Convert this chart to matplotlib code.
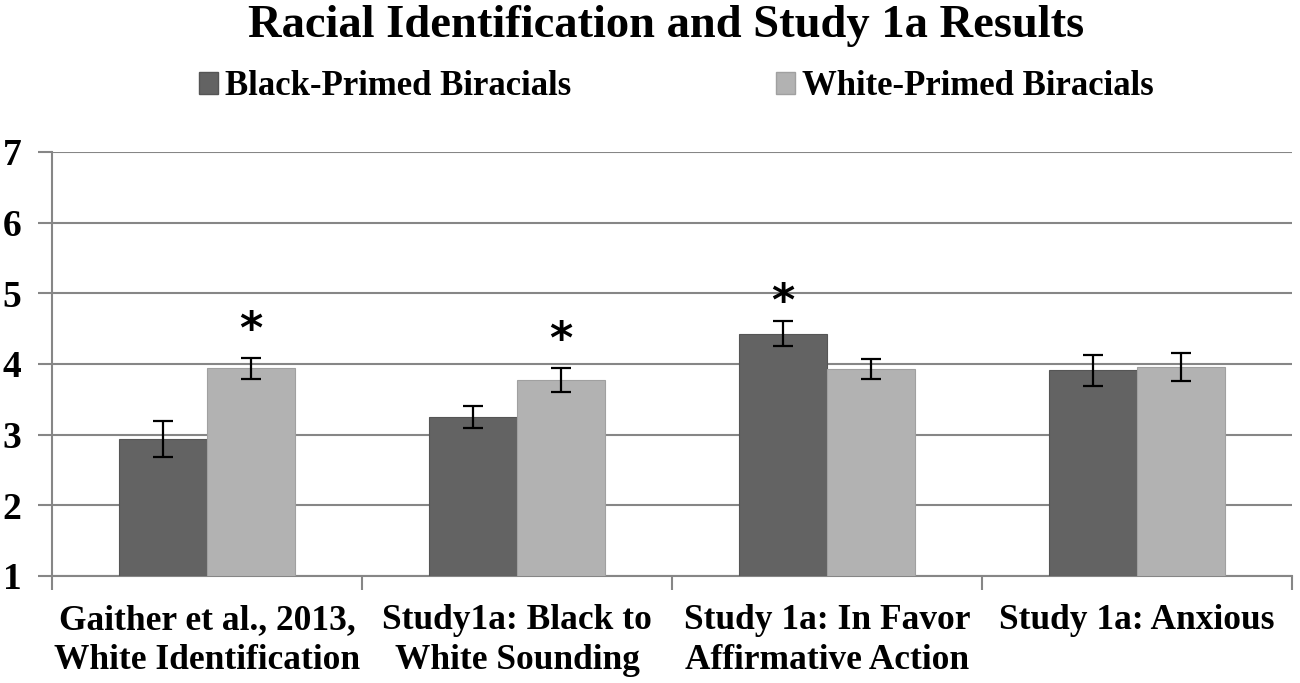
import matplotlib
matplotlib.use("Agg")
import matplotlib.pyplot as plt
import numpy as np
from matplotlib.patches import Patch

categories = ["Gaither et al., 2013,\nWhite Identification",
              "Study1a: Black to\nWhite Sounding",
              "Study 1a: In Favor\nAffirmative Action",
              "Study 1a: Anxious"]
series_names = ["Black-Primed Biracials", "White-Primed Biracials"]
black_primed = [2.94, 3.25, 4.43, 3.91]
white_primed = [3.94, 3.77, 3.93, 3.96]
black_err = [0.26, 0.16, 0.18, 0.22]
white_err = [0.15, 0.17, 0.14, 0.20]
# significance markers: (category index, series index, y position)
stars = [(0, 1, 4.48), (1, 1, 4.33), (2, 0, 4.87)]
yticks = [1, 2, 3, 4, 5, 6, 7]

plt.rcParams['font.family'] = ['Liberation Serif', 'DejaVu Serif']
plt.rcParams['font.weight'] = 'bold'

fig = plt.figure(figsize=(13, 6.83), dpi=100)
ax = fig.add_axes([0.04, 0.1567, 0.9538, 0.6208])

dark = '#636363'
light = '#b2b2b2'
grid_c = '#868686'
x = np.arange(len(categories))
w = 0.284

ax.bar(x - w/2, np.array(black_primed) - 1, w, bottom=1, color=dark,
       edgecolor='#555555', linewidth=0.8, zorder=3)
ax.bar(x + w/2, np.array(white_primed) - 1, w, bottom=1, color=light,
       edgecolor='#a0a0a0', linewidth=0.8, zorder=3)
ax.errorbar(x - w/2, black_primed, yerr=black_err, fmt='none', ecolor='black',
            elinewidth=1.6, capsize=7.5, capthick=1.6, zorder=4)
ax.errorbar(x + w/2, white_primed, yerr=white_err, fmt='none', ecolor='black',
            elinewidth=1.6, capsize=7.5, capthick=1.6, zorder=4)

for ci, si, yv in stars:
    xp = x[ci] - w/2 if si == 0 else x[ci] + w/2
    ax.text(xp, yv, '*', ha='center', va='center', fontsize=32,
            fontweight='bold', family='DejaVu Sans', zorder=5)

ax.set_xlim(-0.5, len(categories) - 0.5)
ax.set_ylim(1, 7)
ax.set_yticks(yticks)
ax.set_yticklabels([str(t) for t in yticks], fontsize=27, fontweight='bold')
ax.yaxis.grid(True, color=grid_c, linewidth=1.5, zorder=0)
ax.set_axisbelow(True)

ax.set_xticks(np.arange(len(categories) + 1) - 0.5)
ax.set_xticklabels([])
ax.set_xticks(x, minor=True)
ax.set_xticklabels(categories, minor=True, fontsize=25.5, fontweight='bold',
                   linespacing=1.3)
ax.tick_params(axis='x', which='minor', length=0, pad=20)
ax.tick_params(axis='x', which='major', length=10, width=1.5, color=grid_c,
               direction='out')
ax.tick_params(axis='y', length=10, width=1.5, color=grid_c, pad=12)

for s in ['top', 'right']:
    ax.spines[s].set_visible(False)
for s in ['left', 'bottom']:
    ax.spines[s].set_color(grid_c)
    ax.spines[s].set_linewidth(1.5)

fig.text(0.512, 0.962, "Racial Identification and Study 1a Results", ha='center',
         va='center', fontsize=33.5, fontweight='bold')

handles = [Patch(facecolor=dark, edgecolor='#555555'),
           Patch(facecolor=light, edgecolor='#a0a0a0')]
fig.legend(handles, series_names, loc='center', bbox_to_anchor=(0.52, 0.873),
           ncol=2, frameon=False, handlelength=0.55,
           handleheight=0.6, handletextpad=0.2, columnspacing=5.9,
           prop={'weight': 'bold', 'size': 25})

fig.savefig('out.png', dpi=100)
